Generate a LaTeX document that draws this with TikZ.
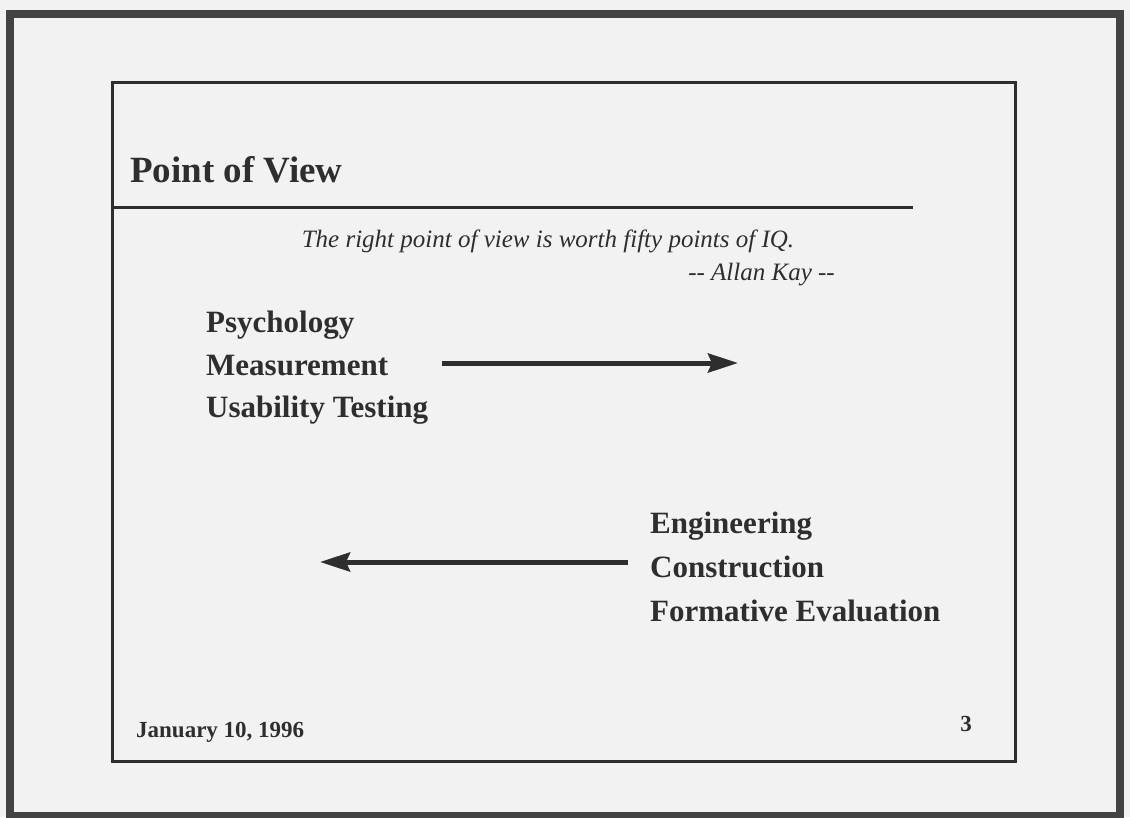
\documentclass[tikz,border=0pt]{standalone}
\usepackage{fontspec}
\setmainfont{Liberation Serif}
\usetikzlibrary{arrows.meta}

\definecolor{ink}{HTML}{2E2E2E}
\definecolor{paper}{HTML}{F2F2F2}

\tikzset{
  >={Stealth[length=30pt,width=19pt,inset=4pt]},   % arrow tip
  item/.style={anchor=base west, inner sep=0pt, text=ink,
    font=\fontsize{31}{31}\selectfont\bfseries},
  quote/.style={inner sep=0pt, text=ink,
    font=\fontsize{25}{25}\selectfont\itshape},
  flow/.style={->, line width=5pt, ink},
}

\begin{document}
\begin{tikzpicture}[x=1pt,y=-1pt]
	\useasboundingbox (0,0) rectangle (1130,817);
	% paper
	\fill[paper] (0,0) rectangle (1130,817);
	% frames
	\draw[line width=8pt, ink!90] (10,14) rectangle (1120,816);
	\draw[line width=3pt, ink] (112,82) rectangle (1015,761);

	% title
	\node[anchor=base west, inner sep=0pt, text=ink,
		font=\fontsize{37}{37}\selectfont\bfseries] (title) at (130,182) {Point of View};
	\draw[line width=3pt, ink] (112,207) -- (913,207);

	% quote
	\node[quote, anchor=base] (saying) at (548,247)
		{The right point of view is worth fifty points of IQ.};
	\node[quote, anchor=base east] (author) at (835,280) {-{}- Allan Kay -{}-};

	% left list
	\node[item] (psych) at (206,332) {Psychology};
	\node[item] (meas) at (206,375) {Measurement};
	\node[item] (usab) at (206,417) {Usability Testing};

	% right list
	\node[item] (engin) at (650,533) {Engineering};
	\node[item] (constr) at (650,577) {Construction};
	\node[item] (formev) at (650,621) {Formative Evaluation};

	% arrows
	\coordinate (toR0) at (442,363);
	\coordinate (toR1) at (738,363);
	\coordinate (toL0) at (628,562);
	\coordinate (toL1) at (320,562);
	\draw[flow] (toR0) -- (toR1);
	\draw[flow] (toL0) -- (toL1);

	% footer
	\node[anchor=base west, inner sep=0pt, text=ink,
		font=\fontsize{23}{23}\selectfont\bfseries] (date) at (136,737) {January 10, 1996};
	\node[anchor=base east, inner sep=0pt, text=ink,
		font=\fontsize{23}{23}\selectfont\bfseries] (page) at (972,731) {3};
\end{tikzpicture}
\end{document}
